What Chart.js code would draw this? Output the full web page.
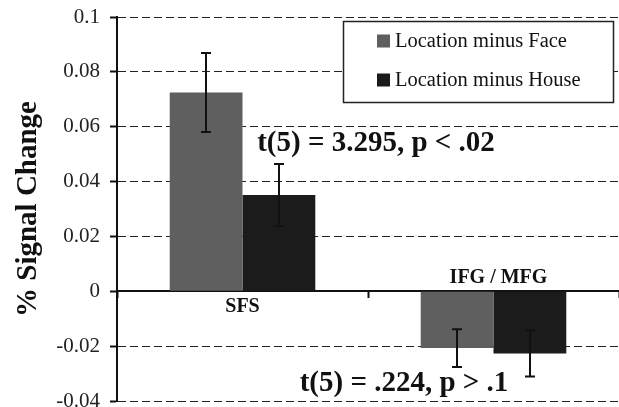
<!DOCTYPE html>
<html>
<head>
<meta charset="utf-8">
<script src="https://cdn.jsdelivr.net/npm/chart.js@4.4.0/dist/chart.umd.min.js"></script>
<style>
html,body{margin:0;padding:0;background:#fff;}
canvas{display:block;}
</style>
</head>
<body>
<canvas id="c" width="619" height="407"></canvas>
<script>
const categories = ['SFS', 'IFG / MFG'];
const seriesNames = ['Location minus Face', 'Location minus House'];
const faceValues = [0.0725, -0.0207];
const houseValues = [0.0351, -0.0227];
const faceErrors = [0.0144, 0.0069];
const houseErrors = [0.0113, 0.0084];
const yTicks = [0.1, 0.08, 0.06, 0.04, 0.02, 0, -0.02, -0.04];
const annotations = ['t(5) = 3.295, p < .02', 't(5) = .224, p > .1'];

const SERIF = '"Liberation Serif", "Times New Roman", serif';
const colors = ['#5f5f5f', '#1b1b1b'];
const errs = [faceErrors, houseErrors];

const overlay = {
  id: 'overlay',
  afterDatasetsDraw(chart) {
    const ctx = chart.ctx;
    const y = chart.scales.y;
    ctx.save();
    ctx.strokeStyle = '#111';
    ctx.lineWidth = 2;
    chart.data.datasets.forEach((ds, di) => {
      const meta = chart.getDatasetMeta(di);
      meta.data.forEach((bar, i) => {
        const v = ds.data[i], e = errs[di][i];
        const yt = y.getPixelForValue(v + e), yb = y.getPixelForValue(v - e);
        const cx = Math.round(bar.x);
        ctx.beginPath();
        ctx.moveTo(cx, yt); ctx.lineTo(cx, yb);
        ctx.moveTo(cx - 5, yt); ctx.lineTo(cx + 5, yt);
        ctx.moveTo(cx - 5, yb); ctx.lineTo(cx + 5, yb);
        ctx.stroke();
      });
    });
    ctx.restore();
  },
  afterDraw(chart) {
    const ctx = chart.ctx;
    const x = chart.scales.x;
    const y = chart.scales.y;
    ctx.save();
    ctx.fillStyle = '#111';
    ctx.font = 'bold 20px ' + SERIF;
    ctx.textAlign = 'center';
    ctx.textBaseline = 'middle';
    ctx.fillText(categories[0], x.getPixelForValue(0), y.getPixelForValue(0) + 16);
    ctx.fillText(categories[1], x.getPixelForValue(1) + 5, y.getPixelForValue(0) - 13);
    ctx.font = 'bold 29px ' + SERIF;
    ctx.fillText(annotations[0], 376, 144);
    ctx.fillText(annotations[1], 404, 384);
    const bx = 343.5, by = 21.5, bw = 270, bh = 81;
    ctx.fillStyle = '#fff';
    ctx.fillRect(bx, by, bw, bh);
    ctx.strokeStyle = '#222';
    ctx.lineWidth = 1.5;
    ctx.strokeRect(bx, by, bw, bh);
    ctx.font = '20.5px ' + SERIF;
    ctx.textAlign = 'left';
    const rows = [41, 80];
    seriesNames.forEach((n, i) => {
      ctx.fillStyle = colors[i];
      ctx.fillRect(377, rows[i] - 6.5, 13, 13);
      ctx.fillStyle = '#111';
      ctx.fillText(n, 395, rows[i] + 1);
    });
    ctx.restore();
  }
};

new Chart(document.getElementById('c'), {
  type: 'bar',
  data: {
    labels: categories,
    datasets: [
      { label: seriesNames[0], data: faceValues, backgroundColor: colors[0], borderWidth: 0 },
      { label: seriesNames[1], data: houseValues, backgroundColor: colors[1], borderWidth: 0 }
    ]
  },
  options: {
    responsive: false,
    animation: false,
    devicePixelRatio: 1,
    layout: { padding: { top: 17, bottom: 6, left: 0, right: 0 } },
    plugins: { legend: { display: false }, tooltip: { enabled: false } },
    datasets: { bar: { categoryPercentage: 0.58, barPercentage: 1.0 } },
    scales: {
      x: {
        type: 'category',
        position: { y: 0 },
        offset: true,
        grid: { display: true, drawOnChartArea: false, drawTicks: true, tickLength: 6, color: '#111', tickWidth: 2, offset: true },
        border: { display: true, color: '#111', width: 2 },
        ticks: { display: false }
      },
      y: {
        min: -0.04,
        max: 0.1,
        afterFit(scale) { scale.width = 117; scale.paddingTop = 0; scale.paddingBottom = 0; },
        afterBuildTicks(scale) { scale.ticks = yTicks.slice().reverse().map(v => ({ value: v })); },
        grid: { color: '#222', lineWidth: 1, tickLength: 7, tickColor: '#111', tickWidth: 2 },
        border: { display: true, color: '#111', width: 2, dash: [8, 4] },
        ticks: {
          padding: 10,
          color: '#222',
          font: { family: SERIF, size: 21 },
          callback: v => String(parseFloat(Number(v).toFixed(2)))
        },
        title: {
          display: true,
          text: '% Signal Change',
          color: '#111',
          font: { family: SERIF, size: 29, weight: 'bold' },
          padding: { top: 11, bottom: 0 }
        }
      }
    }
  },
  plugins: [overlay]
});
</script>
</body>
</html>
